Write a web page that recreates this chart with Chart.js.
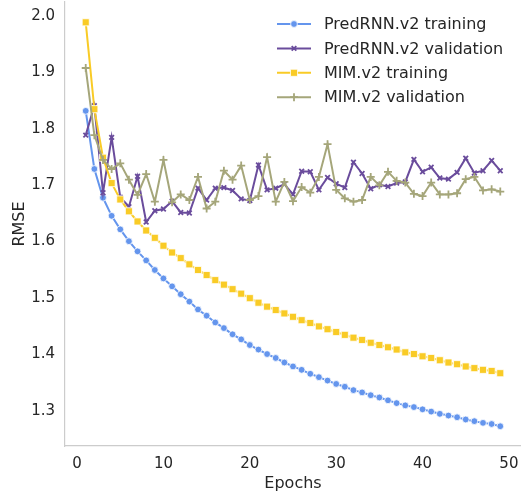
<!doctype html>
<html lang="en">
  <head>
    <meta charset="utf-8">
    <style>
      html, body { margin: 0; padding: 0; background: #fff; }
      #wrap { width: 521px; height: 499px; }
    </style>
  </head>
  <body>
    <div id="wrap"><canvas id="chart" width="521" height="499"></canvas></div>

    <script src="https://cdn.jsdelivr.net/npm/chart.js@4.4.0/dist/chart.umd.min.js"></script>
    <script>
      // epochs on the x axis
      const epochs = [1, 2, 3, 4, 5, 6, 7, 8, 9, 10, 11, 12, 13, 14, 15, 16, 17, 18, 19, 20,
        21, 22, 23, 24, 25, 26, 27, 28, 29, 30, 31, 32, 33, 34, 35, 36, 37, 38, 39, 40,
        41, 42, 43, 44, 45, 46, 47, 48, 49];

      // RMSE values
      const predrnnTrain = [1.828, 1.725, 1.674, 1.642, 1.618, 1.597, 1.579, 1.563, 1.546, 1.531,
        1.517, 1.503, 1.490, 1.476, 1.465, 1.453, 1.443, 1.432, 1.423, 1.413,
        1.405, 1.397, 1.390, 1.382, 1.375, 1.369, 1.362, 1.356, 1.350, 1.344,
        1.339, 1.333, 1.329, 1.324, 1.320, 1.315, 1.310, 1.306, 1.303, 1.299,
        1.295, 1.291, 1.288, 1.285, 1.281, 1.278, 1.275, 1.273, 1.269];
      const predrnnVal = [1.785, 1.837, 1.683, 1.781, 1.675, 1.658, 1.712, 1.631, 1.651, 1.654,
        1.668, 1.648, 1.647, 1.691, 1.670, 1.691, 1.692, 1.687, 1.672, 1.669,
        1.732, 1.688, 1.691, 1.698, 1.680, 1.721, 1.720, 1.688, 1.710, 1.699,
        1.692, 1.737, 1.717, 1.690, 1.697, 1.694, 1.700, 1.702, 1.742, 1.720,
        1.728, 1.709, 1.707, 1.719, 1.744, 1.718, 1.722, 1.740, 1.722];
      const mimTrain = [1.985, 1.831, 1.745, 1.700, 1.671, 1.650, 1.632, 1.616, 1.603, 1.589,
        1.577, 1.567, 1.556, 1.546, 1.537, 1.528, 1.520, 1.512, 1.504, 1.496,
        1.488, 1.481, 1.475, 1.469, 1.463, 1.457, 1.452, 1.446, 1.441, 1.436,
        1.431, 1.426, 1.422, 1.417, 1.413, 1.409, 1.405, 1.400, 1.397, 1.393,
        1.390, 1.386, 1.382, 1.379, 1.375, 1.372, 1.369, 1.367, 1.363];
      const mimVal = [1.904, 1.785, 1.741, 1.725, 1.735, 1.706, 1.679, 1.716, 1.667, 1.741,
        1.666, 1.680, 1.670, 1.711, 1.655, 1.667, 1.722, 1.706, 1.731, 1.670,
        1.677, 1.746, 1.667, 1.702, 1.668, 1.693, 1.683, 1.711, 1.769, 1.688,
        1.673, 1.667, 1.670, 1.711, 1.696, 1.720, 1.704, 1.701, 1.681, 1.677,
        1.701, 1.680, 1.680, 1.682, 1.707, 1.711, 1.687, 1.689, 1.685];

      const seriesNames = ["PredRNN.v2 training", "PredRNN.v2 validation", "MIM.v2 training", "MIM.v2 validation"];
      const xTicks = [0, 10, 20, 30, 40, 50];
      const yTicks = [1.3, 1.4, 1.5, 1.6, 1.7, 1.8, 1.9, 2.0];

      const textColor = "#262626";
      const fontFamily = "'DejaVu Sans', sans-serif";

      const toPoints = (vals) => vals.map((v, i) => ({ x: epochs[i], y: v }));

      function makeSet(label, vals, color, style, radius, order) {
        const crossy = style === "cross" || style === "crossRot";
        return {
          label: label,
          data: toPoints(vals),
          borderColor: color,
          borderWidth: 2,
          pointStyle: style,
          pointRadius: radius,
          pointBackgroundColor: color,
          pointBorderColor: crossy ? color : "#ffffff",
          pointBorderWidth: crossy ? 1.8 : 0.8,
          tension: 0,
          order: order,
        };
      }

      const datasets = [
        makeSet(seriesNames[0], predrnnTrain, "#6495ed", "circle", 3.4, 4),
        makeSet(seriesNames[1], predrnnVal, "#6a4c9c", "crossRot", 3.3, 3),
        makeSet(seriesNames[2], mimTrain, "#f9cb26", "rect", 5, 2),
        makeSet(seriesNames[3], mimVal, "#a5a67a", "cross", 4, 1),
      ];

      // legend drawn by hand: line sample with marker in the middle, no frame
      const lineLegend = {
        id: "lineLegend",
        afterDraw(chart) {
          const ctx = chart.ctx;
          ctx.save();
          ctx.font = "16px " + fontFamily;
          ctx.textBaseline = "middle";
          chart.data.datasets.forEach((ds, i) => {
            const y = 24 + 24.4 * i;
            ctx.strokeStyle = ds.borderColor;
            ctx.lineWidth = 2;
            ctx.beginPath();
            ctx.moveTo(277, y);
            ctx.lineTo(311, y);
            ctx.stroke();
            ctx.fillStyle = ds.pointBackgroundColor;
            ctx.strokeStyle = ds.pointBorderColor;
            ctx.lineWidth = ds.pointBorderWidth;
            Chart.helpers.drawPoint(ctx, {
              pointStyle: ds.pointStyle,
              radius: ds.pointRadius,
              rotation: 0,
              borderWidth: ds.pointBorderWidth,
            }, 294, y);
            ctx.fillStyle = textColor;
            ctx.fillText(ds.label, 324, y + 1);
          });
          ctx.restore();
        },
      };

      new Chart(document.getElementById("chart"), {
        type: "line",
        data: { datasets: datasets },
        plugins: [lineLegend],
        options: {
          responsive: false,
          animation: false,
          layout: { autoPadding: false, padding: { top: 2, right: 0, left: 0, bottom: 0 } },
          plugins: {
            legend: { display: false },
            tooltip: { enabled: false },
          },
          scales: {
            x: {
              type: "linear",
              min: -1.4,
              max: 51.4,
              afterBuildTicks: (scale) => { scale.ticks = xTicks.map((v) => ({ value: v })); },
              afterFit: (scale) => {
                scale.height = 53;
                scale.paddingLeft = 0;
                scale.paddingRight = 0;
              },
              grid: { display: false, drawTicks: false },
              border: { display: true, color: "#cccccc", width: 1.2 },
              ticks: {
                color: textColor,
                padding: 9,
                font: { family: fontFamily, size: 15 },
              },
              title: {
                display: true,
                text: "Epochs",
                color: textColor,
                padding: { top: 0, bottom: 6 },
                font: { family: fontFamily, size: 16 },
              },
            },
            y: {
              type: "linear",
              min: 1.234,
              max: 2.021,
              afterBuildTicks: (scale) => { scale.ticks = yTicks.map((v) => ({ value: v })); },
              afterFit: (scale) => {
                scale.width = 65;
                scale.paddingTop = 0;
                scale.paddingBottom = 0;
              },
              grid: { display: false, drawTicks: false },
              border: { display: true, color: "#cccccc", width: 1.2 },
              ticks: {
                color: textColor,
                padding: 10,
                labelOffset: 2,
                font: { family: fontFamily, size: 15 },
                callback: (v) => Number(v).toFixed(1),
              },
              title: {
                display: true,
                text: "RMSE",
                color: textColor,
                padding: { top: 10, bottom: 0 },
                font: { family: fontFamily, size: 16 },
              },
            },
          },
        },
      });
    </script>
  </body>
</html>
